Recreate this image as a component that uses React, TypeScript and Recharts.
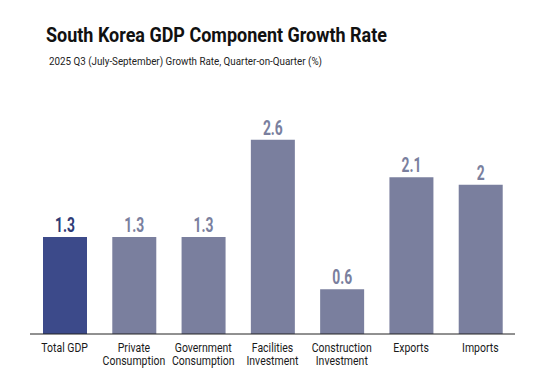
import { Bar, BarChart, Cell, LabelList, XAxis, YAxis } from "recharts";

const categories = [
  "Total GDP",
  "Private Consumption",
  "Government Consumption",
  "Facilities Investment",
  "Construction Investment",
  "Exports",
  "Imports",
];
const tickLines = [
  ["Total GDP"],
  ["Private", "Consumption"],
  ["Government", "Consumption"],
  ["Facilities", "Investment"],
  ["Construction", "Investment"],
  ["Exports"],
  ["Imports"],
];
const growth = [1.3, 1.3, 1.3, 2.6, 0.6, 2.1, 2];

const FONT = "Roboto, 'DejaVu Sans', sans-serif";
const MAIN = "#3c4a8a";
const OTHER = "#7a7f9e";

const data = categories.map((c, i) => ({ name: c, value: growth[i], idx: i }));

function Tick(props: any) {
  const { x, y, payload } = props;
  const lines = tickLines[payload.index] || [payload.value];
  return (
    <g transform={`translate(${x},${y}) scale(0.84,1)`}>
      <text x={0} y={10} textAnchor="middle" fill="#1a1a1a" fontSize={12.5} fontFamily={FONT}>
        {lines.map((l, i) => (
          <tspan key={i} x={0} dy={i === 0 ? 0 : 13}>
            {l}
          </tspan>
        ))}
      </text>
    </g>
  );
}

function ValueLabel(props: any) {
  const { x, y, width, value, index } = props;
  return (
    <g transform={`translate(${x + width / 2},${y - 5}) scale(0.66,1)`}>
      <text
        x={0}
        y={0}
        textAnchor="middle"
        fill={index === 0 ? "#2e3a76" : OTHER}
        fontSize={21}
        fontWeight="bold"
        fontFamily={FONT}
      >
        {value}
      </text>
    </g>
  );
}

export default function App() {
  return (
    <div style={{ position: "absolute", left: 0, top: 0, width: 540, height: 390, background: "#fff" }}>
      <svg width={540} height={80} style={{ position: "absolute", left: 0, top: 0 }}>
        <text
          x={46}
          y={42}
          fontFamily={FONT}
          fontWeight="bold"
          fontSize={21}
          fill="#111"
          textLength={341}
          lengthAdjust="spacingAndGlyphs"
        >
          South Korea GDP Component Growth Rate
        </text>
        <text
          x={49}
          y={65}
          fontFamily={FONT}
          fontSize={11}
          fill="#222"
          textLength={273}
          lengthAdjust="spacingAndGlyphs"
        >
          2025 Q3 (July-September) Growth Rate, Quarter-on-Quarter (%)
        </text>
      </svg>
      <BarChart
        width={540}
        height={390}
        data={data}
        margin={{ top: 110, right: 25, left: 30, bottom: 26 }}
      >
        <XAxis
          dataKey="name"
          axisLine={{ stroke: "#222", strokeWidth: 1 }}
          tickLine={false}
          interval={0}
          height={30}
          tick={<Tick />}
        />
        <YAxis hide domain={[0, 3]} />
        <Bar dataKey="value" barSize={44} isAnimationActive={false}>
          {data.map((d) => (
            <Cell key={d.name} fill={d.idx === 0 ? MAIN : OTHER} />
          ))}
          <LabelList dataKey="value" content={<ValueLabel />} />
        </Bar>
      </BarChart>
    </div>
  );
}
